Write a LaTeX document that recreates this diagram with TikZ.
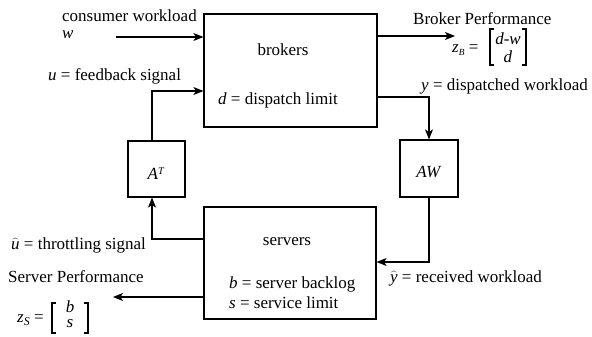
\documentclass[tikz,border=0pt]{standalone}
\usepackage{fontspec}
\setmainfont{Liberation Serif}
\usetikzlibrary{arrows.meta}
\begin{document}
\begin{tikzpicture}[x=1pt,y=-1pt]
\tikzset{
  blk/.style={draw, line width=1.2pt, inner sep=0pt},
  arr/.style={draw, line width=1.2pt, -{Stealth[length=10pt,width=8pt,inset=2.5pt]}},
  brk/.style={draw, line width=1.2pt},
  lbl/.style={inner sep=0pt, anchor=west, font=\fontsize{17}{19}\selectfont},
  ctr/.style={inner sep=0pt, font=\fontsize{17}{19}\selectfont}}
\useasboundingbox (0,0) rectangle (592,337);
% blocks
\node[blk, minimum width=173pt, minimum height=113pt] (brk) at (290.5,70.5) {};
\node[blk, minimum width=172pt, minimum height=112pt] (srv) at (290,263) {};
\node[blk, minimum width=57pt, minimum height=56pt] (AT) at (156.5,169) {};
\node[blk, minimum width=58pt, minimum height=57pt] (AW) at (429,168.5) {};
% block texts
\node[ctr] (tbrk) at (283,50) {brokers};
\node[lbl] (tdl) at (218,100) {\textit{d} = dispatch limit};
\node[ctr] (tsrv) at (287,242) {servers};
\node[lbl] (tbl) at (229,284) {\textit{b} = server backlog};
\node[lbl] (tsl) at (229,303) {\textit{s} = service limit};
\node[ctr] (tAT) at (156,174) {\textit{A}\raisebox{5pt}{\scalebox{0.6}{\textit{T}}}};
\node[ctr] (tAW) at (429,172) {\textit{AW}};
% coordinates
\coordinate (w0) at (116,37);
\coordinate (u1) at (152,91);
\coordinate (bp) at (455,36);
\coordinate (y1) at (429,97);
\coordinate (r1) at (429,262);
\coordinate (t1) at (152,239);
\coordinate (sp) at (113,297);
% connectors
\draw[arr] (w0) -- (w0 -| brk.west);
\draw[arr] (u1 |- AT.north) -- (u1) -- (u1 -| brk.west);
\draw[arr] (brk.east |- bp) -- (bp);
\draw[arr] (brk.east |- y1) -- (y1) -- (AW.north);
\draw[arr] (AW.south) -- (r1) -- (r1 -| srv.east);
\draw[arr] (srv.west |- t1) -- (t1) -- (t1 |- AT.south);
\draw[arr] (srv.west |- sp) -- (sp);
% labels
\node[lbl] (lcw) at (62,16) {consumer workload};
\node[lbl] (lw) at (62,35) {\textit{w}};
\node[lbl] (lu) at (48,76) {\textit{u} = feedback signal};
\node[lbl] (lbp) at (413,19) {Broker Performance};
% z_B
\node[lbl] (lzb) at (452,50) {\textit{z}\raisebox{-3pt}{\scalebox{0.55}{\textit{B}}} =};
\node[ctr] (zb1) at (508,39) {\textit{d-w}};
\node[ctr] (zb2) at (508,57) {\textit{d}};
\draw[brk] (494,29) -- (490,29) -- (490,65) -- (494,65);
\draw[brk] (522,29) -- (526,29) -- (526,65) -- (522,65);
\node[lbl] (ly) at (421,86) {\textit{y} = dispatched workload};
\node[lbl] (lyh) at (390,278) {$\widehat{\textit{y}}$ = received workload};
\node[lbl] (luh) at (11,245) {$\widehat{\textit{u}}$ = throttling signal};
\node[lbl] (lsp) at (8,277) {Server Performance};
% z_S
\node[lbl] (lzs) at (17,320) {\textit{z}\raisebox{-3pt}{\scalebox{0.7}{\textit{S}}} =};
\node[ctr] (zs1) at (70,307) {\textit{b}};
\node[ctr] (zs2) at (70,324) {\textit{s}};
\draw[brk] (56,303) -- (52,303) -- (52,333) -- (56,333);
\draw[brk] (84,303) -- (88,303) -- (88,333) -- (84,333);
\end{tikzpicture}
\end{document}
